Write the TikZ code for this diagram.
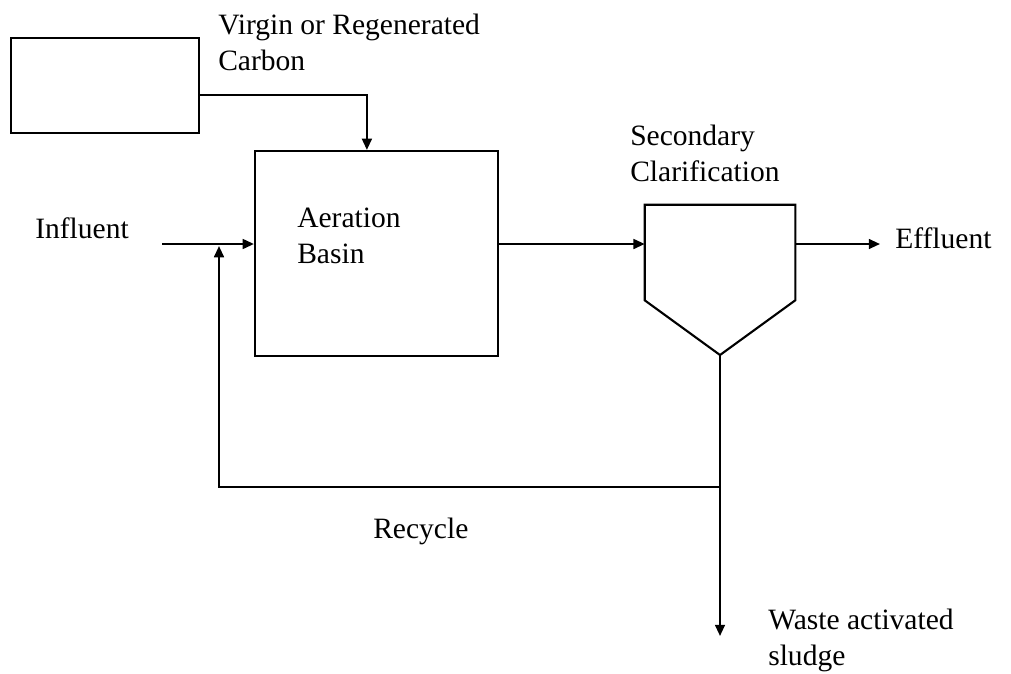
\documentclass[tikz,border=0pt]{standalone}
\usepackage{fontspec}
\setmainfont{Liberation Serif}
\usepackage{tikz}
\usetikzlibrary{arrows.meta,positioning,calc}

\begin{document}
\begin{tikzpicture}[
    x=0.025cm, y=-0.025cm,
    unit/.style={rectangle, draw=black, line width=1.5pt, inner sep=0pt},
    label/.style={anchor=base west, inner sep=0pt, align=left, font=\fontsize{21}{25}\selectfont},
    flow/.style={-{Triangle[length=8pt,width=7pt]}, line width=1.5pt},
    pipe/.style={line width=1.5pt}
]
    \useasboundingbox (0,0) rectangle (1011,673);

    % Units
    \node[unit, minimum width=4.7cm,   minimum height=2.375cm] (carbon) at (105,85.5)  {};
    \node[unit, minimum width=6.075cm, minimum height=5.125cm] (basin)  at (376.5,253.5) {};
    \node[minimum width=3.75cm, minimum height=2.375cm, inner sep=0pt] (clar) at (720,252.5) {};
    \coordinate (apex) at (720,355);
    \draw[pipe, line join=miter] (clar.south west) -- (clar.north west) -- (clar.north east)
        -- (clar.south east) -- (apex) -- cycle;

    % Free ends
    \coordinate (infl)  at (162,244);
    \coordinate (recin) at (219,246);
    \coordinate (junct) at (720,487);
    \coordinate (effl)  at (880,244);
    \coordinate (waste) at (720,636);

    % Labels (base = last line)
    \node[label] (carbonlbl) at (218,70)  {Virgin or Regenerated\\Carbon};
    \node[label] (basinlbl)  at (297,263) {Aeration\\Basin};
    \node[label] (infllbl)   at (35,238)  {Influent};
    \node[label] (clarlbl)   at (630,181) {Secondary\\Clarification};
    \node[label] (effllbl)   at (895,248) {Effluent};
    \node[label] (reclbl)    at (373,538) {Recycle};
    \node[label] (wastelbl)  at (768,665) {Waste activated\\sludge};

    % Flows
    \draw[flow] ([yshift=-0.24cm]carbon.east) -| ([xshift=-0.24cm]basin.north);
    \draw[flow] (infl) -- (infl -| basin.west);
    \draw[flow] (basin.east |- infl) -- (clar.west |- infl);
    \draw[flow] (clar.east |- infl) -- (effl);
    \draw[flow] (apex) -- (waste);
    \draw[flow] (junct) -| (recin);

\end{tikzpicture}
\end{document}
